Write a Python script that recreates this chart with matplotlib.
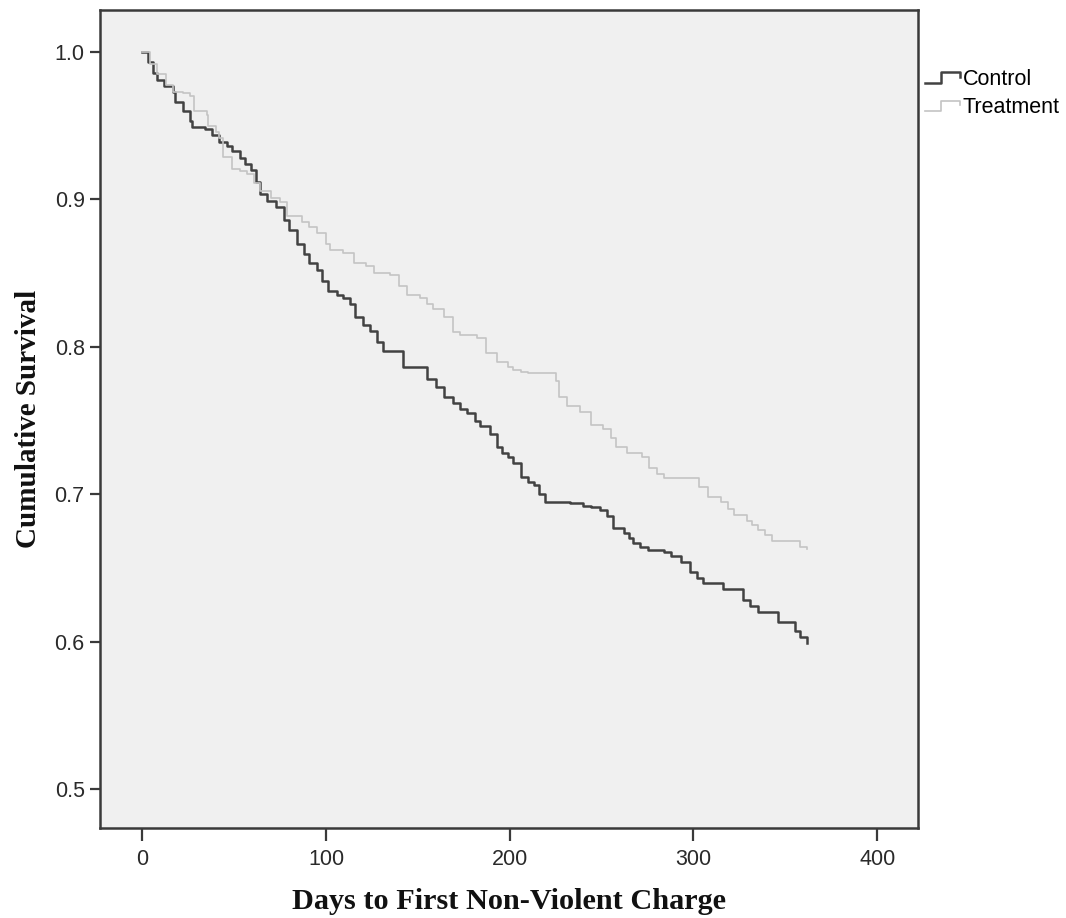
import numpy as np
import matplotlib
matplotlib.use("Agg")
from matplotlib import pyplot as plt
from matplotlib.lines import Line2D
from matplotlib.legend_handler import HandlerBase

# Kaplan-Meier curves (day, cumulative survival)
control_days = [0, 3, 6, 8, 12, 17, 18, 22, 26, 27, 34, 38, 42, 46, 49, 53, 56, 59,
                62, 64, 68, 73, 77, 80, 84, 88, 91, 95, 98, 101, 106, 109, 113, 116,
                120, 124, 128, 131, 142, 155, 160, 164, 169, 173, 177, 181, 184, 189,
                193, 196, 199, 202, 206, 210, 213, 216, 219, 233, 240, 244, 249, 253,
                256, 262, 265, 267, 271, 275, 284, 288, 293, 298, 302, 305, 316, 327,
                331, 335, 346, 355, 358, 362]
control_surv = [1.000, 0.993, 0.986, 0.981, 0.977, 0.973, 0.966, 0.960, 0.953, 0.949,
                0.948, 0.944, 0.939, 0.936, 0.933, 0.928, 0.924, 0.920, 0.912, 0.904,
                0.899, 0.895, 0.886, 0.879, 0.870, 0.863, 0.857, 0.852, 0.845, 0.838,
                0.835, 0.833, 0.829, 0.820, 0.815, 0.811, 0.803, 0.797, 0.786, 0.778,
                0.773, 0.766, 0.762, 0.758, 0.755, 0.750, 0.746, 0.741, 0.732, 0.728,
                0.725, 0.721, 0.712, 0.708, 0.706, 0.700, 0.695, 0.694, 0.692, 0.691,
                0.689, 0.685, 0.677, 0.674, 0.670, 0.667, 0.664, 0.662, 0.661, 0.658,
                0.654, 0.647, 0.643, 0.640, 0.636, 0.628, 0.624, 0.620, 0.613, 0.607,
                0.603, 0.599]

treat_days = [0, 4, 8, 13, 17, 22, 26, 28, 35, 36, 40, 42, 44, 49, 53, 57, 61, 64, 70,
              75, 79, 87, 91, 95, 100, 102, 109, 115, 122, 126, 135, 140, 144, 151, 155,
              158, 164, 169, 173, 182, 187, 193, 199, 202, 206, 210, 225, 227, 231, 238,
              244, 251, 255, 258, 264, 272, 276, 280, 284, 303, 308, 315, 319, 322, 329,
              332, 335, 339, 343, 358, 362]
treat_surv = [1.000, 0.992, 0.985, 0.978, 0.973, 0.972, 0.970, 0.960, 0.957, 0.950,
              0.946, 0.942, 0.929, 0.921, 0.919, 0.917, 0.911, 0.906, 0.901, 0.898,
              0.889, 0.885, 0.881, 0.877, 0.870, 0.866, 0.864, 0.857, 0.855, 0.850,
              0.849, 0.841, 0.835, 0.833, 0.829, 0.826, 0.820, 0.810, 0.808, 0.806,
              0.796, 0.790, 0.786, 0.784, 0.783, 0.782, 0.777, 0.766, 0.760, 0.756,
              0.747, 0.744, 0.738, 0.732, 0.728, 0.725, 0.718, 0.714, 0.711, 0.705,
              0.698, 0.695, 0.690, 0.686, 0.682, 0.679, 0.676, 0.672, 0.668, 0.664,
              0.663]

x_ticks = [0, 100, 200, 300, 400]
y_ticks = [0.5, 0.6, 0.7, 0.8, 0.9, 1.0]


class StepHandler(HandlerBase):
    """little step glyph like the SPSS survival legend"""
    def create_artists(self, legend, orig_handle, xdescent, ydescent,
                       width, height, fontsize, trans):
        xs = np.array([0.0, 0.45, 0.45, 1.0, 1.0]) * width - xdescent
        ys = np.array([0.15, 0.15, 0.85, 0.85, 0.55]) * height - ydescent
        ln = Line2D(xs, ys, color=orig_handle.get_color(),
                    lw=orig_handle.get_linewidth())
        ln.set_transform(trans)
        return [ln]


fig = plt.figure(figsize=(10.66, 9.18), dpi=100)
ax = fig.add_axes([0.0938, 0.098, 0.767, 0.891])
ax.set_facecolor('#f0f0f0')

l1, = ax.step(control_days, control_surv, where='post', color='#424242', lw=1.8,
              label='Control')
l2, = ax.step(treat_days, treat_surv, where='post', color='#c4c4c4', lw=1.2,
              label='Treatment')

ax.set_xlim(-23, 422)
ax.set_ylim(0.4735, 1.0285)
ax.set_xticks(x_ticks)
ax.set_yticks(y_ticks)
ax.set_yticklabels(['%.1f' % v for v in y_ticks])

for lab in ax.get_xticklabels() + ax.get_yticklabels():
    lab.set_fontfamily('Liberation Sans')
    lab.set_fontsize(15.5)
    lab.set_color('#2a2a2a')
ax.tick_params(axis='x', length=9, width=1.6, color='#3a3a3a', pad=6)
ax.tick_params(axis='y', length=7, width=1.6, color='#3a3a3a', pad=4)
for sp in ax.spines.values():
    sp.set_color('#3a3a3a')
    sp.set_linewidth(1.8)

ax.set_xlabel('Days to First Non-Violent Charge', family='Liberation Serif',
              weight='bold', size=21.8, labelpad=13, color='#111111')
ax.set_ylabel('Cumulative Survival', family='Liberation Serif', weight='bold',
              size=21, labelpad=9, color='#111111')

fig.legend(handles=[l1, l2], loc='upper left', bbox_to_anchor=(0.868, 0.925),
           frameon=False, prop={'family': 'Liberation Sans', 'size': 15.5},
           handler_map={Line2D: StepHandler()}, handlelength=1.6,
           handletextpad=0.15, labelspacing=0.35, borderpad=0, borderaxespad=0)

fig.savefig('out.png', dpi=100)
